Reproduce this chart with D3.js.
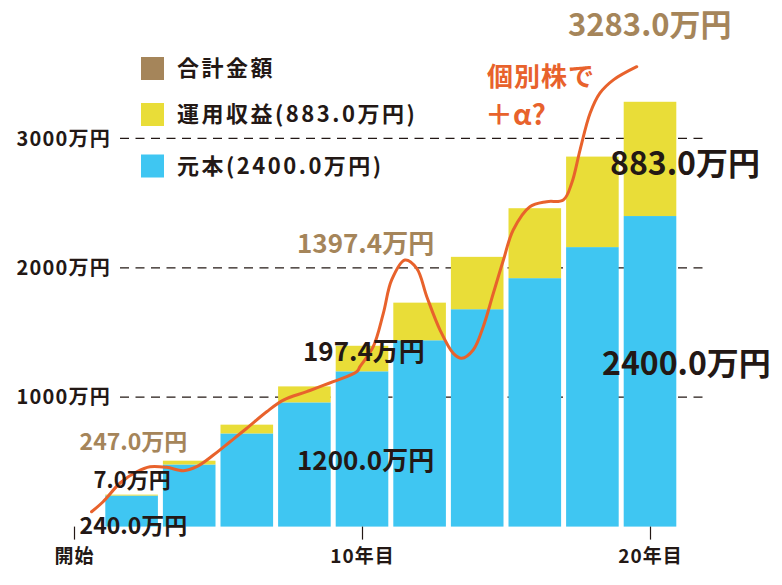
<!DOCTYPE html>
<html>
<head>
<meta charset="utf-8">
<script src="https://cdn.jsdelivr.net/npm/d3@7"></script>
<style>
  body { margin: 0; background: #fff; }
  svg { display: block; font-family: "Noto Sans CJK JP", "Noto Sans", sans-serif; }
</style>
</head>
<body>
<div id="chart"></div>
<script>
const width = 782;
const height = 585;

// data
const years = [2, 4, 6, 8, 10, 12, 14, 16, 18, 20];
const principal = [240, 480, 720, 960, 1200, 1440, 1680, 1920, 2160, 2400];
const gains = [7.0, 29.3, 67.8, 123.5, 197.4, 290.7, 404.6, 540.4, 699.4, 883.0];
const yTicks = [1000, 2000, 3000];
const xTicks = [0, 10, 20];
const xTickLabels = ["開始", "10年目", "20年目"];
const legendNames = ["合計金額", "運用収益(883.0万円)", "元本(2400.0万円)"];

// hand drawn "individual stocks" line: [year, amount]
const stockYears = [0.61, 1.01, 1.6, 2.18, 2.64, 3.22, 3.8, 4.26, 4.84, 5.42, 6.0, 6.69, 7.27, 8.08, 9.0, 9.82, 9.93, 10.39, 10.74, 11.03, 11.49, 11.9, 12.25, 12.71, 13.17, 13.46, 13.86, 14.21, 14.56, 14.91, 15.25, 15.83, 16.41, 16.99, 17.28, 17.57, 17.92, 18.26, 18.73, 19.54];
const stockValues = [115, 192, 337, 424, 463, 458, 432, 463, 553, 656, 760, 888, 978, 1043, 1120, 1197, 1236, 1390, 1648, 1906, 2060, 1996, 1777, 1519, 1339, 1301, 1365, 1545, 1803, 2060, 2292, 2472, 2511, 2524, 2653, 2910, 3194, 3349, 3452, 3554];

const blue = "#3fc6f2";
const yellow = "#e9dd38";
const tan = "#a5855a";
const orange = "#e8622c";
const ink = "#231815";

const x = d3.scaleLinear().domain([0, 20]).range([74, 650]);
const y = d3.scaleLinear().domain([0, 3000]).range([526.6, 138.4]);

const svg = d3.select("#chart").append("svg")
    .attr("width", width)
    .attr("height", height);

// dashed grid
svg.append("g")
  .selectAll("line")
  .data(yTicks)
  .join("line")
    .attr("x1", 120)
    .attr("x2", 705)
    .attr("y1", d => y(d))
    .attr("y2", d => y(d))
    .attr("stroke", ink)
    .attr("stroke-width", 1.2)
    .attr("stroke-dasharray", "9,6.5");

svg.append("g")
    .attr("font-size", 20)
    .attr("font-weight", 700)
    .attr("fill", ink)
    .attr("text-anchor", "end")
    .attr("letter-spacing", 1.2)
  .selectAll("text")
  .data(yTicks)
  .join("text")
    .attr("x", 111)
    .attr("y", d => y(d))
    .attr("dy", "0.36em")
    .text(d => d + "万円");

// stacked bars
const rows = years.map((yr, i) => ({ year: yr, p: principal[i], g: gains[i] }));
const barW = x(2) - x(0) - 5;

const bars = svg.append("g")
  .selectAll("g")
  .data(rows)
  .join("g");

bars.append("rect")
    .attr("x", d => x(d.year) - barW / 2)
    .attr("width", barW)
    .attr("y", d => y(d.p))
    .attr("height", d => y(0) - y(d.p))
    .attr("fill", blue);

bars.append("rect")
    .attr("x", d => x(d.year) - barW / 2)
    .attr("width", barW)
    .attr("y", d => y(d.p + d.g))
    .attr("height", d => y(d.p) - y(d.p + d.g))
    .attr("fill", yellow);

// x axis ticks
const xAxis = svg.append("g")
    .attr("transform", `translate(0,${y(0)})`)
    .call(d3.axisBottom(x)
      .tickValues(xTicks)
      .tickSize(13)
      .tickPadding(10)
      .tickFormat((d, i) => xTickLabels[i]));
xAxis.select(".domain").remove();
xAxis.selectAll("line").attr("stroke", ink).attr("stroke-width", 1.2);
xAxis.selectAll("text")
    .attr("fill", ink)
    .attr("font-size", 19)
    .attr("font-weight", 700)
    .attr("letter-spacing", 1)
    .attr("font-family", "Noto Sans CJK JP");

// orange line
const line = d3.line()
    .x(d => x(d[0]))
    .y(d => y(d[1]))
    .curve(d3.curveCatmullRom);

svg.append("path")
    .datum(stockYears.map((yr, i) => [yr, stockValues[i]]))
    .attr("d", line)
    .attr("fill", "none")
    .attr("stroke", orange)
    .attr("stroke-width", 3)
    .attr("stroke-linecap", "round");

svg.append("text")
    .attr("x", 487)
    .attr("y", 77)
    .attr("dy", "0.36em")
    .attr("fill", orange)
    .attr("font-size", 26)
    .attr("font-weight", 700)
    .attr("letter-spacing", 1)
    .text("個別株で");

svg.append("text")
    .attr("x", 485)
    .attr("y", 115)
    .attr("dy", "0.36em")
    .attr("fill", orange)
    .attr("font-size", 28)
    .attr("font-weight", 700)
    .text("＋α?");

// value labels
const labels = [
  { t: "240.0万円", year: 2, v: 0, dx: -52, dy: -1, size: 23, c: ink },
  { t: "7.0万円", year: 2, v: 240, dx: -38, dy: -15.5, size: 22, c: ink },
  { t: "247.0万円", year: 2, v: 247, dx: -52, dy: -53, size: 23, c: tan },
  { t: "1200.0万円", year: 10, v: 0, dx: -65, dy: -66, size: 26, c: ink },
  { t: "197.4万円", year: 10, v: 1200, dx: -59, dy: -20, size: 26, c: ink },
  { t: "1397.4万円", year: 10, v: 1397.4, dx: -65, dy: -102, size: 26, c: tan },
  { t: "2400.0万円", year: 20, v: 0, dx: -48, dy: -163, size: 32, c: ink },
  { t: "883.0万円", year: 20, v: 2400, dx: -40, dy: -53, size: 32, c: ink },
  { t: "3283.0万円", year: 20, v: 3283, dx: -82, dy: -77, size: 31, c: tan }
];

svg.append("g")
    .attr("font-weight", 700)
  .selectAll("text")
  .data(labels)
  .join("text")
    .attr("x", d => x(d.year) + d.dx)
    .attr("y", d => (d.v === 0 ? y(0) : y(d.v)) + d.dy)
    .attr("dy", "0.36em")
    .attr("font-size", d => d.size)
    .attr("fill", d => d.c)
    .text(d => d.t);

// legend
const legend = svg.append("g")
  .selectAll("g")
  .data(legendNames)
  .join("g")
    .attr("transform", (d, i) => `translate(141,${[68.5, 114.5, 166][i]})`);

legend.append("rect")
    .attr("x", 0)
    .attr("y", -11.5)
    .attr("width", 23)
    .attr("height", 23)
    .attr("fill", (d, i) => [tan, yellow, blue][i]);

legend.append("text")
    .attr("x", 36)
    .attr("dy", "0.36em")
    .attr("font-size", 22)
    .attr("font-weight", 700)
    .attr("letter-spacing", 2.5)
    .attr("fill", ink)
    .text(d => d);
</script>
</body>
</html>
